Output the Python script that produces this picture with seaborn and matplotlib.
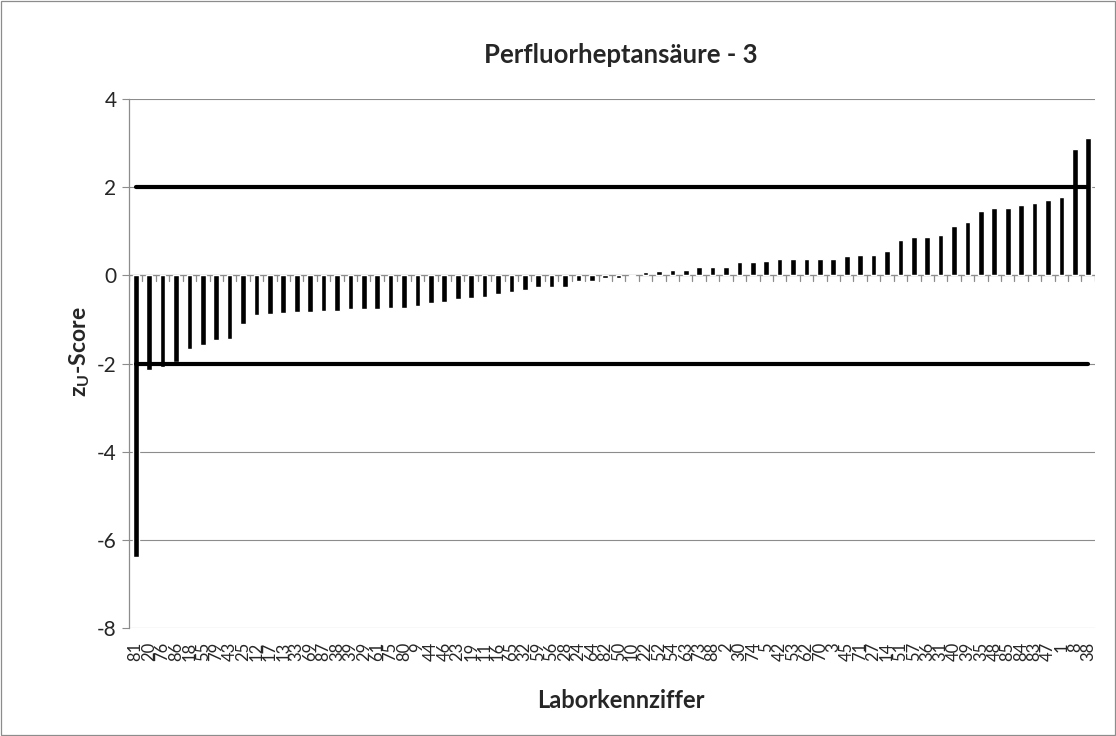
import matplotlib
matplotlib.use('Agg')
import matplotlib.pyplot as plt
import matplotlib.patches as mpatches
import pandas as pd
import seaborn as sns

labs = ['81', '20', '76', '86', '18', '55', '79', '43', '25', '12',
        '17', '13', '33', '69', '87', '38', '39', '29', '61', '75',
        '80', '9', '44', '46', '23', '19', '11', '16', '65', '32',
        '59', '56', '28', '24', '64', '82', '50', '10', '22', '52',
        '54', '63', '73', '88', '2', '30', '74', '5', '42', '53',
        '62', '70', '3', '45', '71', '27', '14', '51', '57', '36',
        '31', '40', '39', '35', '48', '85', '84', '83', '47', '1',
        '8', '38']

zu = [-6.38, -2.15, -2.08, -1.97, -1.68, -1.57, -1.47, -1.45, -1.11, -0.90,
      -0.87, -0.85, -0.83, -0.83, -0.80, -0.80, -0.76, -0.76, -0.76, -0.75,
      -0.74, -0.69, -0.62, -0.60, -0.53, -0.52, -0.49, -0.42, -0.38, -0.34,
      -0.27, -0.27, -0.27, -0.12, -0.12, -0.06, -0.06, -0.01, 0.07, 0.10,
      0.13, 0.13, 0.19, 0.19, 0.19, 0.31, 0.31, 0.32, 0.38, 0.38,
      0.38, 0.38, 0.38, 0.43, 0.47, 0.47, 0.56, 0.81, 0.86, 0.86,
      0.92, 1.11, 1.22, 1.47, 1.53, 1.53, 1.59, 1.63, 1.71, 1.78,
      2.87, 3.11]

limit_hi = 2
limit_lo = -2

sns.set_style('white')
plt.rcParams['font.family'] = ['Lato', 'DejaVu Sans']
plt.rcParams['axes.unicode_minus'] = False

df = pd.DataFrame({'pos': [str(i) for i in range(len(zu))], 'zu': zu})

fig = plt.figure(figsize=(11.16, 7.36), dpi=100)
ax = fig.add_axes([0.1156, 0.1467, 0.8655, 0.7188])

sns.barplot(data=df, x='pos', y='zu', color='black', width=0.42,
            saturation=1, ax=ax, zorder=3)

n = len(zu)
ax.set_xlim(-0.5, n - 0.5)
ax.set_ylim(-8, 4)
ax.set_yticks(range(-8, 5, 2))
ax.yaxis.grid(True, color='#8c8c8c', linewidth=0.8, zorder=0)
ax.set_axisbelow(True)

for s in ['top', 'right', 'bottom']:
    ax.spines[s].set_visible(False)
ax.spines['left'].set_color('#8c8c8c')
ax.spines['left'].set_linewidth(0.9)

# axis line at zero, small ticks between the categories
ax.axhline(0, color='#8c8c8c', linewidth=0.9, zorder=2)
for b in range(n + 1):
    ax.plot([b - 0.5, b - 0.5], [0, -0.12], color='#8c8c8c', linewidth=0.9, zorder=2)

# limit lines at +/-2
ax.plot([0, n - 1], [limit_hi, limit_hi], color='black', linewidth=3.0,
        solid_capstyle='round', zorder=4)
ax.plot([0, n - 1], [limit_lo, limit_lo], color='black', linewidth=3.0,
        solid_capstyle='round', zorder=4)

ax.set_xticks(range(n))
ax.set_xticklabels(labs, rotation=90, fontsize=12)
ax.tick_params(axis='x', length=0, pad=10)
ax.tick_params(axis='y', length=5, color='#8c8c8c', labelsize=15, direction='out',
               left=True, pad=4)
ax.set_xlabel('')
ax.set_ylabel('')

fig.text(0.5565, 1 - 55 / 736, 'Perfluorheptansäure - 3', fontsize=18.5, fontweight='bold',
         ha='center', va='center')
fig.text(0.5565, 1 - 700 / 736, 'Laborkennziffer', fontsize=17, fontweight='bold',
         ha='center', va='center')
fig.text(80 / 1116, 1 - 352 / 736, 'z$_\\mathregular{U}$-Score', fontsize=16.5, fontweight='bold',
         ha='center', va='center', rotation=90)

fig.patches.append(mpatches.Rectangle((0.001, 0.001), 0.998, 0.997, transform=fig.transFigure,
                                      fill=False, edgecolor='#8c8c8c', linewidth=0.9))

fig.savefig('out.png', dpi=100)
